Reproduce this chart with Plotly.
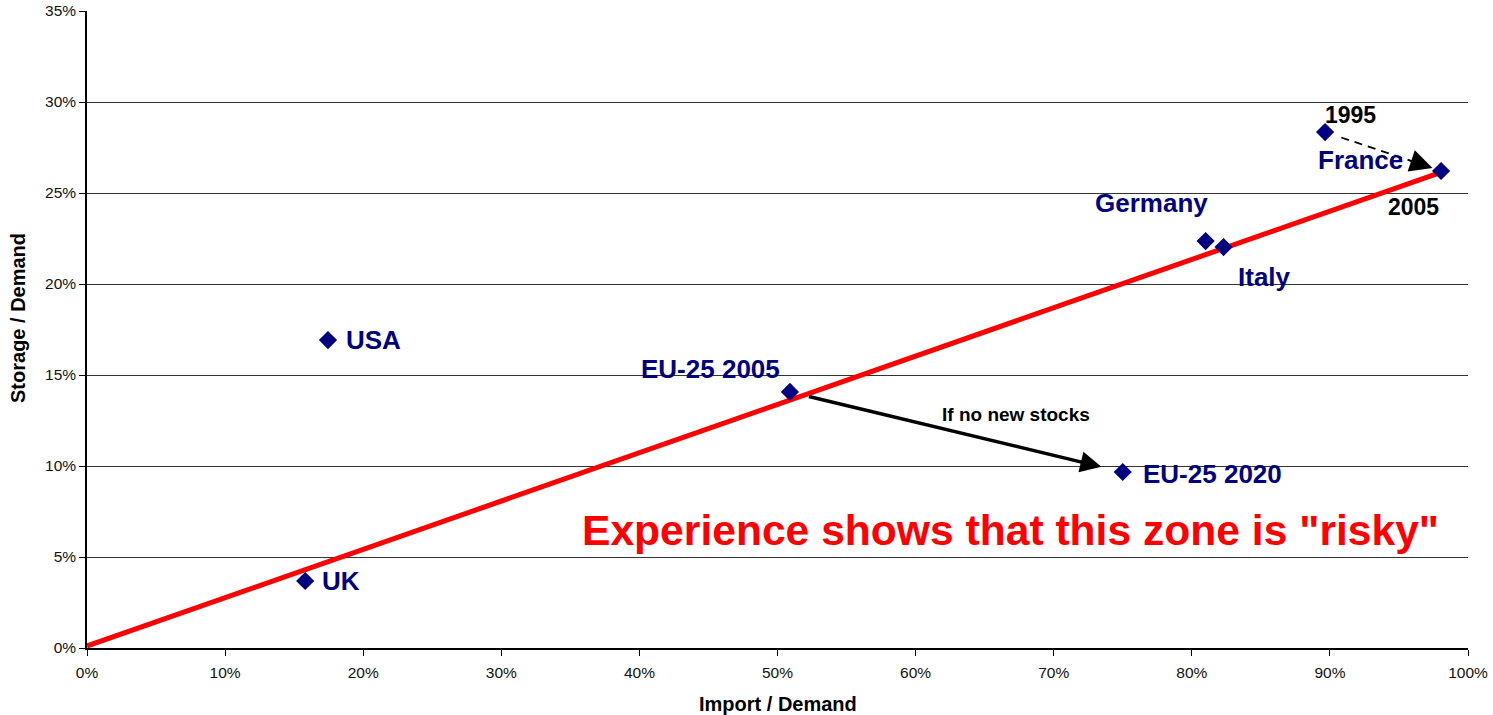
import plotly.graph_objects as go

# ---- data ----
names = ["UK", "USA", "EU-25 2005", "EU-25 2020", "Germany", "Italy", "France 1995", "France 2005"]
import_demand = [0.158, 0.1745, 0.509, 0.750, 0.810, 0.823, 0.8965, 0.9805]
storage_demand = [0.0368, 0.1692, 0.1407, 0.0967, 0.2236, 0.2203, 0.2835, 0.2621]

trend_x = [0.0, 0.985]
trend_y = [0.0011, 0.2626]

x_ticks = [0, 0.1, 0.2, 0.3, 0.4, 0.5, 0.6, 0.7, 0.8, 0.9, 1.0]
y_ticks = [0, 0.05, 0.10, 0.15, 0.20, 0.25, 0.30, 0.35]

FONT = "Liberation Sans, Arial, sans-serif"
NAVY = "#000080"

pt = dict(zip(names, zip(import_demand, storage_demand)))

fig = go.Figure()

fig.add_trace(go.Scatter(
    x=trend_x, y=trend_y, mode="lines",
    line=dict(color="#ff0000", width=5), hoverinfo="skip", showlegend=False))

# dashed France trajectory
fx0, fy0 = pt["France 1995"]
fx1, fy1 = pt["France 2005"]
fig.add_trace(go.Scatter(
    x=[fx0 + (fx1 - fx0) * 0.14, fx0 + (fx1 - fx0) * 0.78],
    y=[fy0 + (fy1 - fy0) * 0.14, fy0 + (fy1 - fy0) * 0.78],
    mode="lines", line=dict(color="black", width=1.8, dash="8px,6px"),
    hoverinfo="skip", showlegend=False))

fig.add_trace(go.Scatter(
    x=import_demand, y=storage_demand, mode="markers",
    marker=dict(symbol="diamond", size=14, color=NAVY),
    text=names, showlegend=False))

label_font = dict(family=FONT, size=26, color=NAVY)
black_font = dict(family=FONT, size=23, color="black")

def lab(text, key, xanchor, xshift, yshift, font=label_font):
    x, y = pt[key]
    fig.add_annotation(x=x, y=y, text="<b>%s</b>" % text, showarrow=False,
                       xanchor=xanchor, yanchor="middle", xshift=xshift, yshift=yshift,
                       font=font)

lab("UK", "UK", "left", 15, 0)
lab("USA", "USA", "left", 16, 0)
lab("EU-25 2005", "EU-25 2005", "right", -8, 23)
lab("EU-25 2020", "EU-25 2020", "left", 18, -2)
lab("Germany", "Germany", "right", 4, 38)
lab("Italy", "Italy", "left", 12, -30)
lab("1995", "France 1995", "left", -2, 17, black_font)
lab("France", "France 1995", "left", -9, -28)
lab("2005", "France 2005", "right", 0, -36, black_font)

# EU arrow
ex0, ey0 = pt["EU-25 2005"]
ex1, ey1 = pt["EU-25 2020"]
fig.add_annotation(x=ex1, y=ey1, ax=ex0, ay=ey0, axref="x", ayref="y",
                   showarrow=True, arrowhead=2, arrowsize=1.2, arrowwidth=3.5,
                   arrowcolor="black", standoff=22, startstandoff=18, text="")

# France arrow head
fig.add_annotation(x=fx1, y=fy1,
                   ax=fx0 + (fx1 - fx0) * 0.70, ay=fy0 + (fy1 - fy0) * 0.70,
                   axref="x", ayref="y",
                   showarrow=True, arrowhead=2, arrowsize=3, arrowwidth=1.5,
                   arrowcolor="black", standoff=9, text="")

fig.add_annotation(x=0.673, y=0.1283, text="<b>If no new stocks</b>", showarrow=False,
                   font=dict(family=FONT, size=19, color="black"))
fig.add_annotation(x=0.669, y=0.0648, text="<b>Experience shows that this zone is \"risky\"</b>",
                   showarrow=False, font=dict(family=FONT, size=42.6, color="#ff0000"))

# axis titles
fig.add_annotation(xref="paper", yref="paper", x=0.5, y=-0.088, text="<b>Import / Demand</b>",
                   showarrow=False, yanchor="middle",
                   font=dict(family=FONT, size=20, color="black"))
fig.add_annotation(xref="paper", yref="paper", x=-0.05, y=0.518, text="<b>Storage / Demand</b>",
                   showarrow=False, textangle=-90, xanchor="center", yanchor="middle",
                   font=dict(family=FONT, size=20, color="black"))

tickfont = dict(family=FONT, size=15.5, color="#111")
fig.update_xaxes(
    range=[0, 1], tickvals=x_ticks, tickformat=".0%", automargin=False,
    showgrid=False, zeroline=False, showline=True, linecolor="black", linewidth=1.5,
    ticks="outside", ticklen=6, tickcolor="black", ticklabelstandoff=4,
    tickfont=tickfont)
fig.update_yaxes(
    range=[0, 0.35], tickvals=y_ticks, tickformat=".0%", automargin=False,
    showgrid=True, gridcolor="#333", gridwidth=1, zeroline=False,
    showline=True, linecolor="black", linewidth=1.5,
    ticks="outside", ticklen=6, tickcolor="black",
    tickfont=tickfont)

fig.update_layout(
    width=1493, height=715,
    margin=dict(l=87, r=25, t=11, b=67),
    plot_bgcolor="white", paper_bgcolor="white",
    showlegend=False)

fig.write_html("out.html")
